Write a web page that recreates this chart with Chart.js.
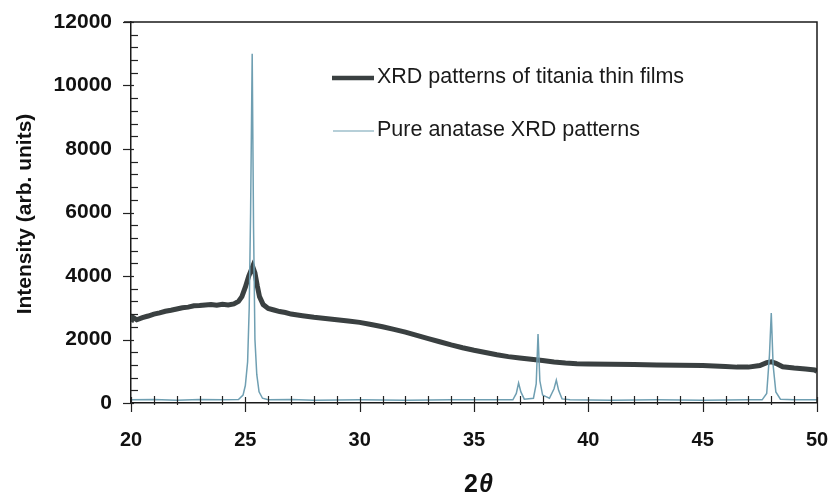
<!DOCTYPE html>
<html>
<head>
<meta charset="utf-8">
<script src="https://cdn.jsdelivr.net/npm/chart.js@4.4.1/dist/chart.umd.min.js"></script>
<style>
  html, body { margin: 0; padding: 0; background: #ffffff; }
  #wrap { width: 833px; height: 499px; position: relative; }
</style>
</head>
<body>
<div id="wrap"><canvas id="c" width="833" height="499"></canvas></div>
<script>
// ---- data ----
const seriesLabels = ["XRD patterns of titania thin films", "Pure anatase XRD patterns"];

const filmX = [20.0, 20.08, 20.25, 20.5, 20.75, 21.0, 21.25, 21.5, 21.75, 22.0, 22.25, 22.5, 22.75, 23.0, 23.25, 23.5, 23.75, 24.0, 24.25, 24.5, 24.7, 24.85, 25.0, 25.15, 25.32, 25.42, 25.52, 25.62, 25.78, 26.0, 26.25, 26.5, 26.75, 27.0, 27.5, 28.0, 28.5, 29.0, 29.5, 30.0, 30.5, 31.0, 31.5, 32.0, 32.5, 33.0, 33.5, 34.0, 34.5, 35.0, 35.5, 36.0, 36.5, 37.0, 37.5, 38.0, 38.5, 39.0, 39.5, 40.0, 41.0, 42.0, 43.0, 44.0, 45.0, 46.0, 46.5, 47.0, 47.5, 47.8, 48.0, 48.2, 48.5, 49.0, 49.5, 49.9, 50.0];
const filmY = [2550, 2700, 2620, 2690, 2740, 2800, 2840, 2890, 2920, 2960, 3000, 3020, 3060, 3070, 3090, 3100, 3080, 3110, 3090, 3120, 3200, 3350, 3650, 4000, 4300, 4100, 3700, 3350, 3100, 2980, 2930, 2880, 2850, 2800, 2750, 2700, 2660, 2620, 2580, 2540, 2470, 2400, 2320, 2230, 2130, 2030, 1930, 1830, 1740, 1660, 1590, 1520, 1460, 1420, 1380, 1340, 1290, 1260, 1240, 1230, 1220, 1210, 1200, 1190, 1180, 1150, 1130, 1130, 1180, 1270, 1300, 1250, 1140, 1100, 1070, 1040, 1000];

const anataseX = [20.0, 21.0, 22.0, 23.0, 24.0, 24.7, 24.9, 25.0, 25.1, 25.17, 25.23, 25.3, 25.36, 25.42, 25.5, 25.6, 25.75, 26.0, 27.0, 28.0, 30.0, 32.0, 34.0, 36.0, 36.7, 36.85, 36.95, 37.05, 37.2, 37.6, 37.72, 37.8, 37.88, 38.0, 38.3, 38.5, 38.6, 38.7, 38.85, 39.2, 41.0, 43.0, 45.0, 47.0, 47.6, 47.8, 47.92, 48.0, 48.08, 48.2, 48.4, 49.0, 50.0];
const anataseY = [100, 110, 90, 110, 100, 110, 250, 550, 1300, 3000, 6000, 11000, 5500, 2000, 900, 350, 150, 100, 110, 90, 100, 90, 100, 100, 100, 300, 630, 350, 120, 150, 600, 2170, 700, 250, 150, 450, 720, 400, 130, 100, 90, 100, 90, 100, 100, 300, 1500, 2830, 1200, 350, 120, 100, 100];

const xMin = 20, xMax = 50, xMajor = 5, xMinor = 1;
const yMin = 0, yMax = 12000, yMajor = 2000, yMinor = 400;

const toPts = (xs, ys) => xs.map((x, i) => ({ x: x, y: ys[i] }));

const FILM_COLOR = '#3a4041';
const ANA_COLOR = '#6f9fb2';
const SANS = '"Liberation Sans", Arial, sans-serif';

const decor = {
  id: 'decor',
  afterDraw(chart) {
    const ctx = chart.ctx;
    const a = chart.chartArea;
    const xs = chart.scales.x, ys = chart.scales.y;
    ctx.save();
    // box top and right
    ctx.strokeStyle = '#1a1a1a';
    ctx.lineWidth = 1.5;
    ctx.beginPath();
    ctx.moveTo(a.left - 7, a.top);
    ctx.lineTo(a.right, a.top);
    ctx.lineTo(a.right, a.bottom);
    ctx.stroke();
    // tick marks
    ctx.lineWidth = 1.2;
    ctx.strokeStyle = '#222';
    ys.ticks.forEach(t => {
      const p = Math.round(ys.getPixelForValue(t.value)) + 0.5;
      const major = t.value % yMajor === 0;
      ctx.beginPath();
      if (major) { ctx.moveTo(a.left - 8, p); ctx.lineTo(a.left + 3, p); }
      else { ctx.moveTo(a.left, p); ctx.lineTo(a.left + 7, p); }
      ctx.stroke();
    });
    xs.ticks.forEach(t => {
      const p = Math.round(xs.getPixelForValue(t.value)) + 0.5;
      const major = t.value % xMajor === 0;
      ctx.beginPath();
      if (major) { ctx.moveTo(p, a.bottom - 6); ctx.lineTo(p, a.bottom + 9); }
      else { ctx.moveTo(p, a.bottom - 7); ctx.lineTo(p, a.bottom + 2); }
      ctx.stroke();
    });
    // axis titles
    ctx.fillStyle = '#111';
    ctx.save();
    ctx.translate(25, 214);
    ctx.rotate(-Math.PI / 2);
    ctx.font = 'bold 21px ' + SANS;
    ctx.textAlign = 'center';
    ctx.textBaseline = 'middle';
    ctx.fillText('Intensity (arb. units)', 0, 0);
    ctx.restore();
    ctx.textBaseline = 'alphabetic';
    ctx.textAlign = 'left';
    ctx.font = 'bold 25px ' + SANS;
    const w2 = ctx.measureText('2').width;
    ctx.font = 'italic bold 25px ' + SANS;
    const wt = ctx.measureText('θ').width;
    const cx = (a.left + a.right) / 2 + 4;
    let sx = cx - (w2 + wt) / 2;
    ctx.font = 'bold 25px ' + SANS;
    ctx.fillText('2', sx, 492);
    ctx.font = 'italic bold 25px ' + SANS;
    ctx.fillText('θ', sx + w2 + 1, 492);
    // legend
    const items = [
      { y: 78, color: FILM_COLOR, w: 4.5, x0: 332, x1: 374 },
      { y: 131, color: ANA_COLOR, w: 1.2, x0: 333, x1: 374 }
    ];
    ctx.font = '21.5px ' + SANS;
    ctx.textBaseline = 'middle';
    items.forEach((it, i) => {
      ctx.strokeStyle = it.color;
      ctx.lineWidth = it.w;
      ctx.beginPath();
      ctx.moveTo(it.x0, it.y);
      ctx.lineTo(it.x1, it.y);
      ctx.stroke();
      ctx.fillStyle = '#1a1a1a';
      ctx.fillText(chart.data.datasets[i].label, 377, it.y - 1);
    });
    ctx.restore();
  }
};

new Chart(document.getElementById('c'), {
  type: 'line',
  data: {
    datasets: [
      {
        label: seriesLabels[0],
        data: toPts(filmX, filmY),
        borderColor: FILM_COLOR,
        borderWidth: 5,
        pointRadius: 0,
        tension: 0,
        order: 2
      },
      {
        label: seriesLabels[1],
        data: toPts(anataseX, anataseY),
        borderColor: ANA_COLOR,
        borderWidth: 1.5,
        pointRadius: 0,
        tension: 0,
        order: 1
      }
    ]
  },
  plugins: [decor],
  options: {
    responsive: false,
    animation: false,
    devicePixelRatio: 1,
    layout: { padding: { left: 0, top: 22, right: 16, bottom: 0 } },
    plugins: { legend: { display: false }, tooltip: { enabled: false } },
    scales: {
      x: {
        type: 'linear',
        min: xMin, max: xMax,
        afterFit(s) { s.height = 96; s.paddingLeft = 0; s.paddingRight = 0; },
        border: { display: true, color: '#1a1a1a', width: 1.5 },
        grid: { display: true, drawOnChartArea: false, drawTicks: false, color: 'rgba(0,0,0,0)' },
        ticks: {
          stepSize: xMinor,
          autoSkip: false,
          maxRotation: 0,
          padding: 25,
          color: '#111',
          font: { family: SANS, size: 20, weight: 'bold' },
          callback: v => (v % xMajor === 0 ? String(v) : '')
        }
      },
      y: {
        type: 'linear',
        min: yMin, max: yMax,
        afterFit(s) { s.width = 131; s.paddingTop = 0; s.paddingBottom = 0; },
        border: { display: true, color: '#1a1a1a', width: 1.5 },
        grid: { display: true, drawOnChartArea: false, drawTicks: false, color: 'rgba(0,0,0,0)' },
        ticks: {
          stepSize: yMinor,
          autoSkip: false,
          padding: 19,
          color: '#111',
          font: { family: SANS, size: 21, weight: 'bold' },
          callback: v => (v % yMajor === 0 ? String(v) : '')
        }
      }
    }
  }
});
</script>
</body>
</html>
